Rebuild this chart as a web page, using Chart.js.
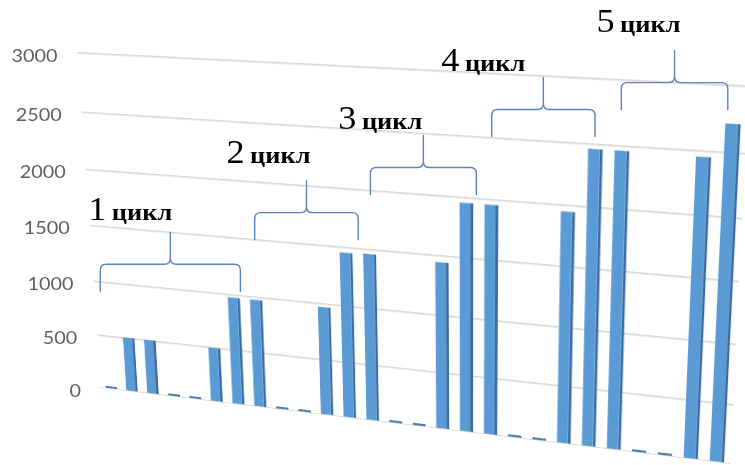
<!DOCTYPE html>
<html>
<head>
<meta charset="utf-8">
<script src="https://cdn.jsdelivr.net/npm/chart.js@4/dist/chart.umd.min.js"></script>
<style>
  html, body { margin: 0; padding: 0; background: #fff; overflow: hidden; }
  #stage { position: relative; width: 745px; height: 465px; overflow: hidden; background: #fff; }
  #wall { position: absolute; left: 0; top: 0; transform-origin: 0 0; }
  #notes { position: absolute; left: 0; top: 0; pointer-events: none; }
</style>
</head>
<body>
<div id="stage">
  <canvas id="wall" width="700" height="340"></canvas>
  <canvas id="notes" width="745" height="465"></canvas>
</div>
<script>
// Loading stages, in order
const stages = ['1','2','3','4','5','6','7','8','9','10','11','12','13','14',
                '15','16','17','18','19','20','21','22','23','24','25','26','27'];
// Load at each stage
const load = [0, 505, 505, 0, 0, 500, 975, 975, 0, 0, 970, 1460, 1465, 0, 0,
              1450, 1960, 1960, 0, 0, 1950, 2460, 2460, 0, 0, 2455, 2715];
// Value axis ticks
const yTicks = [0, 500, 1000, 1500, 2000, 2500, 3000];

// Cycle annotations: number, first and last stage covered, brace level (value units)
const cycleNumbers = ['1', '2', '3', '4', '5'];
const cycleWord = 'цикл';
const cycleFrom  = [-0.1, 7.1, 12.1, 17.0, 21.9];
const cycleTo    = [6.35, 11.55, 16.4, 20.95, 25.75];
const cycleLevel = [1217, 1772, 2221, 2743, 3002];

// ---- layout of the tilted wall (screen corners of the plot area) ----
const WALL = {
  tl: [77.5, 53], tr: [749, 86.6], br: [730, 464], bl: [101, 388]
};
const LABEL_SHIFT = [[2, 12], [4, 18], [-1, 7], [-18, 7], [6, 19]];
const BRACE = { down: 27, up: 32, r: 6, color: '#5b83bd', width: 1.4 };

function solveHomography(src, dst) {
  const A = [], b = [];
  for (let i = 0; i < 4; i++) {
    const [x, y] = src[i], [u, v] = dst[i];
    A.push([x, y, 1, 0, 0, 0, -u * x, -u * y]); b.push(u);
    A.push([0, 0, 0, x, y, 1, -v * x, -v * y]); b.push(v);
  }
  const n = 8;
  for (let c = 0; c < n; c++) {
    let p = c;
    for (let r = c + 1; r < n; r++) if (Math.abs(A[r][c]) > Math.abs(A[p][c])) p = r;
    [A[c], A[p]] = [A[p], A[c]];
    [b[c], b[p]] = [b[p], b[c]];
    for (let r = 0; r < n; r++) {
      if (r === c) continue;
      const f = A[r][c] / A[c][c];
      for (let k = c; k < n; k++) A[r][k] -= f * A[c][k];
      b[r] -= f * b[c];
    }
  }
  return b.map((val, i) => val / A[i][i]);
}

function makeProjector(h) {
  return (x, y) => {
    const w = h[6] * x + h[7] * y + 1;
    return [(h[0] * x + h[1] * y + h[2]) / w, (h[3] * x + h[4] * y + h[5]) / w];
  };
}

function drawBrace(ctx, x1, x2, y, xm) {
  const { down, up, r } = BRACE;
  ctx.beginPath();
  ctx.moveTo(x1, y + down);
  ctx.lineTo(x1, y + r);
  ctx.quadraticCurveTo(x1, y, x1 + r, y);
  ctx.lineTo(xm - r, y);
  ctx.quadraticCurveTo(xm, y, xm, y - r);
  ctx.lineTo(xm, y - up);
  ctx.moveTo(xm, y - r);
  ctx.quadraticCurveTo(xm, y, xm + r, y);
  ctx.lineTo(x2 - r, y);
  ctx.quadraticCurveTo(x2, y, x2, y + r);
  ctx.lineTo(x2, y + down);
  ctx.stroke();
}

const perspectivePlugin = {
  id: 'perspectiveWall',
  afterDraw(chart) {
    const a = chart.chartArea;
    const h = solveHomography(
      [[a.left, a.top], [a.right, a.top], [a.right, a.bottom], [a.left, a.bottom]],
      [WALL.tl, WALL.tr, WALL.br, WALL.bl]
    );
    chart.canvas.style.transform =
      `matrix3d(${h[0]},${h[3]},0,${h[6]},${h[1]},${h[4]},0,${h[7]},0,0,1,0,${h[2]},${h[5]},0,1)`;
    const project = makeProjector(h);
    const xs = chart.scales.x, ys = chart.scales.y;

    const ctx = document.getElementById('notes').getContext('2d');
    ctx.clearRect(0, 0, 745, 465);

    // value axis labels beside the wall's left edge
    ctx.fillStyle = '#5f5f5f';
    ctx.font = '18px Lato, "Open Sans", sans-serif';
    ctx.textAlign = 'right';
    ctx.textBaseline = 'middle';
    ys.ticks.forEach(t => {
      const [px, py] = project(a.left, ys.getPixelForValue(t.value));
      ctx.save();
      ctx.translate(px - 20, py + 3);
      ctx.scale(1.1, 1);
      ctx.fillText(String(t.value), 0, 0);
      ctx.restore();
    });

    // cycle braces and captions
    ctx.strokeStyle = BRACE.color;
    ctx.lineWidth = BRACE.width;
    ctx.lineCap = 'round';
    cycleNumbers.forEach((num, i) => {
      const lv = ys.getPixelForValue(cycleLevel[i]);
      const mid = (cycleFrom[i] + cycleTo[i]) / 2;
      const [x1] = project(xs.getPixelForValue(cycleFrom[i]), lv);
      const [x2] = project(xs.getPixelForValue(cycleTo[i]), lv);
      const [, yb] = project(xs.getPixelForValue(mid), lv);
      const xm = (x1 + x2) / 2;
      drawBrace(ctx, x1, x2, yb, xm);

      const right = xm + LABEL_SHIFT[i][0];
      const base = yb - BRACE.up - LABEL_SHIFT[i][1];
      ctx.save();
      ctx.translate(right, base);
      ctx.scale(1.1, 1);
      ctx.fillStyle = '#000';
      ctx.textAlign = 'right';
      ctx.textBaseline = 'alphabetic';
      ctx.font = 'bold 24px "Liberation Serif", "DejaVu Serif", serif';
      const ww = ctx.measureText(cycleWord).width;
      ctx.fillText(cycleWord, 0, 0);
      ctx.font = '33px "Liberation Serif", "DejaVu Serif", serif';
      ctx.fillText(num, -ww - 5, 0);
      ctx.restore();
    });
  }
};

new Chart(document.getElementById('wall'), {
  type: 'bar',
  data: {
    labels: stages,
    datasets: [{
      data: load,
      backgroundColor: c => (c.raw === 0 ? '#4b7cb3' : '#5b9bd5'),
      borderColor: '#3a6ca3',
      borderWidth: { top: 0, right: 3, bottom: 0, left: 0 },
      barPercentage: 0.56,
      categoryPercentage: 1,
      minBarLength: 3
    }]
  },
  options: {
    responsive: false,
    animation: false,
    devicePixelRatio: 1,
    layout: { padding: { top: 2, bottom: 0, left: 0, right: 0 } },
    plugins: { legend: { display: false }, tooltip: { enabled: false } },
    scales: {
      x: { display: false, offset: true },
      y: {
        min: 0, max: 3000,
        afterBuildTicks: s => { s.ticks = yTicks.map(v => ({ value: v })); },
        ticks: { display: false },
        grid: { color: '#d9d6d2', lineWidth: 1.6, drawTicks: false },
        border: { display: false }
      }
    }
  },
  plugins: [perspectivePlugin]
});
</script>
</body>
</html>
